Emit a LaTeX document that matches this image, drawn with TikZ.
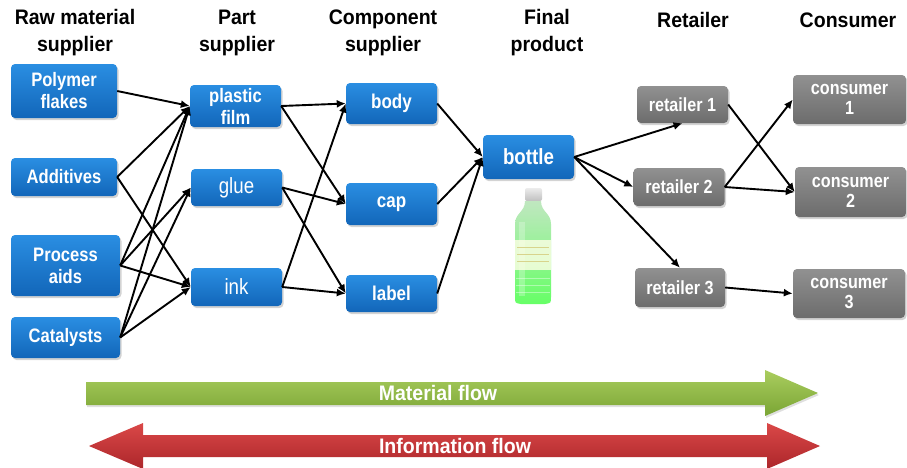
\documentclass[tikz,border=0pt]{standalone}
\usepackage{fontspec}
\newfontfamily\headfont[FakeStretch=0.93]{Liberation Sans}
\newfontfamily\boxfont[FakeStretch=0.85]{Liberation Sans}
\usetikzlibrary{arrows.meta,shadows}
\definecolor{bluetop}{RGB}{42,142,226}
\definecolor{bluebot}{RGB}{18,102,185}
\definecolor{greytop}{RGB}{145,145,145}
\definecolor{greybot}{RGB}{108,108,108}
\definecolor{flowgreentop}{RGB}{170,205,95}
\definecolor{flowgreenbot}{RGB}{122,165,52}
\definecolor{flowredtop}{RGB}{218,72,72}
\definecolor{flowredbot}{RGB}{172,38,42}
\definecolor{bottlegreen}{RGB}{150,215,150}

\begin{document}
\begin{tikzpicture}[x=1pt,y=-1pt,
  head/.style={font=\headfont\bfseries\fontsize{21}{27}\selectfont, align=center},
  bluebox/.style={rounded corners=4pt, top color=bluetop, bottom color=bluebot,
    text=white, align=center, inner sep=0pt,
    font=\boxfont\bfseries\fontsize{19.5}{22}\selectfont,
    drop shadow={opacity=0.35, shadow xshift=1.5pt, shadow yshift=-2pt}},
  greybox/.style={bluebox, top color=greytop, bottom color=greybot,
    font=\boxfont\bfseries\fontsize{19}{20}\selectfont},
  flowtext/.style={text=white, font=\headfont\bfseries\fontsize{21}{24}\selectfont},
  link/.style={-{Latex[length=9pt,width=8pt]}, line width=1.9pt}]
\useasboundingbox (0,0) rectangle (907,467);

\node[head] (rawhd) at (75,33) {Raw material\\supplier};
\node[head] (parthd) at (237,33) {Part\\supplier};
\node[head] (comphd) at (383,33) {Component\\supplier};
\node[head] (finalhd) at (547,33) {Final\\product};
\node[head] (rethd) at (693,20) {Retailer};
\node[head] (conhd) at (848,20) {Consumer};

\node[bluebox, minimum width=106, minimum height=54] (poly) at (64,91) {Polymer\\flakes};
\node[bluebox, minimum width=106, minimum height=38] (add) at (64,177) {Additives};
\node[bluebox, minimum width=109, minimum height=61] (proc) at (65.5,265.5) {Process\\aids};
\node[bluebox, minimum width=109, minimum height=41] (cat) at (65.5,337.5) {Catalysts};

\node[bluebox, minimum width=91, minimum height=42] (film) at (235.5,106) {plastic\\film};
\node[bluebox, minimum width=91, minimum height=37, font=\boxfont\mdseries\fontsize{22}{24}\selectfont] (glue) at (236.5,187.5) {glue};
\node[bluebox, minimum width=91, minimum height=38, font=\boxfont\mdseries\fontsize{22}{24}\selectfont] (ink) at (236.5,287) {ink};

\node[bluebox, minimum width=91, minimum height=41, font=\boxfont\bfseries\fontsize{20}{22}\selectfont] (body) at (391.5,103.5) {body};
\node[bluebox, minimum width=91, minimum height=42, font=\boxfont\bfseries\fontsize{20}{22}\selectfont] (cap) at (391.5,204) {cap};
\node[bluebox, minimum width=91, minimum height=37, font=\boxfont\bfseries\fontsize{20}{22}\selectfont] (label) at (391.5,293.5) {label};

\node[bluebox, minimum width=91, minimum height=44, font=\boxfont\bfseries\fontsize{22}{24}\selectfont] (bottle) at (528.5,157) {bottle};

\node[greybox, minimum width=91, minimum height=37] (ret1) at (682.5,104.5) {retailer 1};
\node[greybox, minimum width=91, minimum height=38] (ret2) at (679,187) {retailer 2};
\node[greybox, minimum width=90, minimum height=39] (ret3) at (680,287.5) {retailer 3};

\node[greybox, minimum width=113, minimum height=49] (con1) at (849.5,99.5) {consumer\\1};
\node[greybox, minimum width=111, minimum height=50] (con2) at (850.5,192) {consumer\\2};
\node[greybox, minimum width=112, minimum height=49] (con3) at (849,293.5) {consumer\\3};

\shade[top color=gray!15, bottom color=gray!50, rounded corners=2pt] (525,188) rectangle (542,201);
\shade[top color=bottlegreen!60!white, middle color=bottlegreen!85!white, bottom color=green!60!white]
  (525,201) .. controls (525,212) and (515,213) .. (515,224) -- (515,297)
  .. controls (515,303) .. (521,304) -- (545,304) .. controls (551,303) .. (551,297)
  -- (551,224) .. controls (551,213) and (541,212) .. (541,201) -- cycle;
\fill[white, opacity=0.25] (519,222) rectangle (525,296);
\fill[yellow!10!white, opacity=0.8] (515,240) rectangle (551,270);
\foreach \y in {247,254,261}
  \draw[olive!35, line width=1pt] (517,\y) -- (549,\y);
\foreach \y in {278,285,292}
  \draw[white, opacity=0.4, line width=0.8pt] (516,\y) -- (550,\y);

\foreach \a/\b in {poly/film, add/film, add/ink, proc/film, proc/glue, proc/ink,
                   cat/film, cat/glue, cat/ink,
                   film/body, film/cap, glue/cap, glue/label, ink/body, ink/label,
                   body/bottle, cap/bottle, label/bottle,
                   ret1/con2, ret2/con1, ret2/con2, ret3/con3}
  \draw[link] (\a.east) -- (\b.west);
\draw[link] (bottle.east) -- (ret1.south);
\draw[link] (bottle.east) -- (ret2.west);
\draw[link] (bottle.east) -- (ret3.north);

\shade[top color=flowgreentop, bottom color=flowgreenbot, drop shadow={opacity=0.25, shadow xshift=1pt, shadow yshift=-2pt}]
  (86,382) -- (765,382) -- (765,370) -- (818,393) -- (765,416) -- (765,405) -- (86,405) -- cycle;
\shade[top color=flowredtop, bottom color=flowredbot]
  (89,446) -- (143,423) -- (143,435) -- (767,435) -- (767,423) -- (820,446)
  -- (767,469) -- (767,457) -- (143,457) -- (143,469) -- cycle;
\node[flowtext] (matflow) at (438,393) {Material flow};
\node[flowtext] (infoflow) at (455,446) {Information flow};
\end{tikzpicture}
\end{document}
